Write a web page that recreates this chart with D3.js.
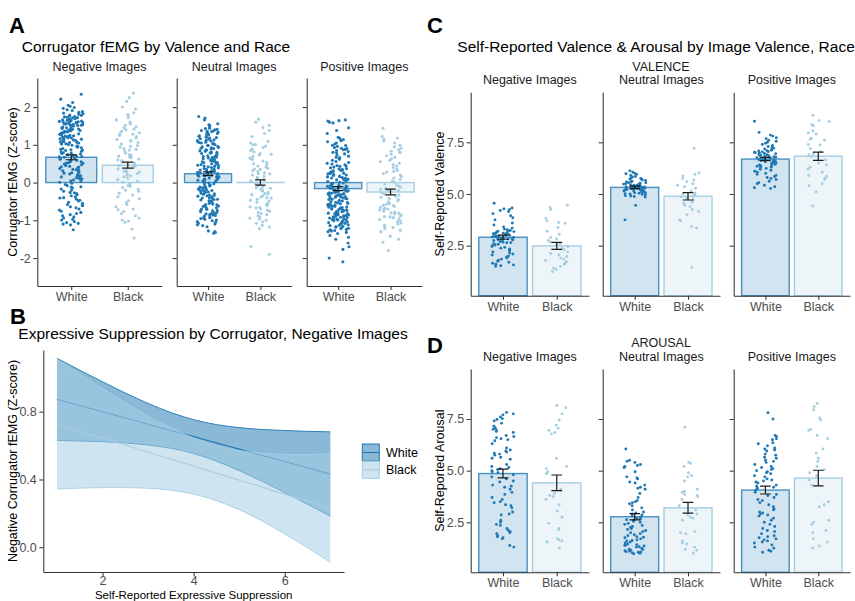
<!DOCTYPE html>
<html><head><meta charset="utf-8">
<script src="https://cdn.jsdelivr.net/npm/d3@7"></script>
<style>
body{margin:0;background:#fff}
svg text{font-family:"Liberation Sans",Arial,Helvetica,sans-serif}
</style>
</head><body>
<svg id="c" width="855" height="601"></svg>
<script>
// ---------- shared categories ----------
const races = ["White","Black"];
const facets = ["Negative Images","Neutral Images","Positive Images"];
const colDark = "#1F78B4", colLight = "#A6CEE3";

// ---------- Panel A: Corrugator fEMG ----------
const aTicks = [-2,-1,0,1,2];
const aMeanWhite = [0.67,0.235,-0.16], aMeanBlack = [0.46,0.003,-0.25];
const aSEWhite = [0.065,0.05,0.055],   aSEBlack = [0.08,0.07,0.075];
const aNegWhite = [2.34,2.21,2.12,2.05,2.02,1.99,
1.97,1.93,1.91,1.88,1.86,1.84,1.83,1.81,1.79,1.78,1.76,1.75,1.73,1.72,1.71,1.69,1.68,1.66,1.65,1.64,1.62,1.61,1.6,1.59,1.58,1.57,1.56,1.55,1.54,1.53,1.52,1.52,1.51,1.5,1.63,1.67,1.74,1.58,1.61,1.55,
1.49,1.47,1.46,1.45,1.43,1.42,1.41,1.39,1.38,1.37,1.36,1.34,1.33,1.32,1.31,1.29,1.28,1.27,1.26,1.24,1.23,1.22,1.21,1.19,1.18,1.17,1.16,1.14,1.13,1.12,1.11,1.09,1.08,1.07,1.06,1.04,1.03,1.02,1.01,1.44,1.35,1.25,1.15,1.05,1.2,
0.99,0.97,0.95,0.94,0.92,0.9,0.88,0.87,0.85,0.83,0.81,0.79,0.78,0.76,0.74,0.72,0.7,0.69,0.67,0.65,0.63,0.62,0.6,0.58,0.56,0.55,0.53,0.51,0.5,0.96,0.86,0.77,0.68,0.59,0.52,
0.49,0.47,0.45,0.43,0.41,0.39,0.37,0.35,0.33,0.31,0.29,0.27,0.25,0.23,0.21,0.19,0.17,0.15,0.13,0.11,0.09,0.07,0.05,0.03,0.01,0.42,0.34,0.26,0.18,0.1,
-0.02,-0.05,-0.08,-0.11,-0.14,-0.17,-0.2,-0.23,-0.26,-0.29,-0.32,-0.35,-0.38,-0.41,-0.44,-0.47,-0.49,-0.12,-0.27,-0.4,
-0.52,-0.55,-0.58,-0.61,-0.64,-0.67,-0.7,-0.73,-0.76,-0.79,-0.82,-0.85,-0.88,-0.91,-0.94,-0.97,-0.99,-0.6,
-1.03,-1.06,-1.08,-1.1,-1.12,-1.25];
const aNegBlack = [2.37,2.25,2.15,2.0,1.95,1.85,1.8,1.78,1.72,1.66,1.6,1.55,1.52,
1.48,1.45,1.4,1.36,1.32,1.28,1.22,1.18,1.14,1.1,1.06,1.02,1.42,1.25,
0.98,0.94,0.9,0.86,0.82,0.78,0.74,0.7,0.66,0.62,0.58,0.54,0.51,0.88,0.72,0.6,
0.48,0.44,0.4,0.36,0.32,0.28,0.24,0.2,0.16,0.12,0.08,0.04,0.01,0.3,0.18,
-0.03,-0.08,-0.13,-0.18,-0.23,-0.28,-0.33,-0.38,-0.43,-0.48,-0.2,-0.1,
-0.53,-0.58,-0.64,-0.7,-0.76,-0.82,-0.88,-0.94,-0.99,-0.72,
-1.02,-1.05,-1.23,-1.47,1.12,0.96,0.45,0.26,0.68,1.3];
const aNeuWhite = [1.75,1.71,1.66,1.56,1.53,1.52,1.5,1.47,
1.44,1.43,1.41,1.4,1.38,1.37,1.35,1.33,1.32,1.3,1.29,1.27,1.26,1.24,1.22,1.21,1.19,1.18,1.16,1.15,1.13,1.11,1.1,1.08,1.07,1.05,1.04,1.02,1.01,1.36,1.28,1.2,1.12,1.06,
0.99,0.98,0.96,0.95,0.93,0.92,0.9,0.89,0.87,0.86,0.84,0.83,0.81,0.8,0.78,0.77,0.75,0.74,0.72,0.71,0.69,0.68,0.66,0.65,0.63,0.62,0.6,0.59,0.57,0.56,0.54,0.53,0.51,0.5,0.91,0.79,0.67,0.55,
0.49,0.48,0.46,0.45,0.43,0.42,0.4,0.39,0.37,0.36,0.34,0.33,0.31,0.3,0.28,0.27,0.25,0.24,0.22,0.21,0.19,0.18,0.16,0.15,0.13,0.12,0.1,0.09,0.07,0.06,0.04,0.03,0.01,0.44,0.35,0.26,0.17,0.08,0.29,0.2,
-0.01,-0.03,-0.04,-0.06,-0.07,-0.09,-0.1,-0.12,-0.13,-0.15,-0.17,-0.18,-0.2,-0.21,-0.23,-0.25,-0.26,-0.28,-0.3,-0.31,-0.33,-0.35,-0.36,-0.38,-0.4,-0.41,-0.43,-0.45,-0.46,-0.48,-0.49,-0.14,-0.24,-0.34,-0.44,-0.19,
-0.51,-0.53,-0.55,-0.57,-0.59,-0.61,-0.63,-0.65,-0.67,-0.69,-0.71,-0.73,-0.75,-0.77,-0.79,-0.81,-0.83,-0.85,-0.87,-0.89,-0.91,-0.93,-0.95,-0.97,-0.99,-0.62,-0.74,-0.86,-0.58,-0.7,-0.82,-0.94,
-1.01,-1.03,-1.05,-1.08,-1.1,-1.12,-1.14,-1.17,-1.28,-1.3,-1.32,-1.34];
const aNeuBlack = [1.68,1.6,1.52,1.46,1.38,1.3,1.22,
1.09,1.05,1.01,0.97,0.93,0.89,0.85,0.81,0.77,0.73,0.69,0.65,0.61,0.57,0.53,0.5,1.0,0.87,0.75,0.63,
0.47,0.44,0.41,0.38,0.35,0.32,0.29,0.26,0.23,0.2,0.17,0.14,0.11,0.08,0.05,0.02,0.36,0.24,
-0.02,-0.05,-0.08,-0.11,-0.14,-0.17,-0.2,-0.23,-0.26,-0.29,-0.32,-0.35,-0.38,-0.41,-0.44,-0.47,-0.49,-0.15,-0.3,-0.4,
-0.52,-0.55,-0.58,-0.61,-0.64,-0.67,-0.7,-0.73,-0.76,-0.79,-0.82,-0.85,-0.88,-0.91,-0.94,-0.97,-1.0,-1.04,-1.08,-1.13,-1.18,-0.66,
-1.22,-1.69,-1.9];
const aPosWhite = [1.66,1.64,1.63,1.6,1.58,1.45,1.38,1.3,
1.2,1.17,1.14,1.11,1.08,1.05,1.02,0.99,0.96,0.93,0.9,0.88,0.85,0.82,0.79,0.76,0.73,0.7,0.67,0.64,0.62,0.59,0.56,0.53,0.51,0.98,0.91,0.87,0.8,0.66,
0.49,0.47,0.45,0.43,0.41,0.39,0.37,0.35,0.33,0.31,0.29,0.27,0.25,0.23,0.21,0.19,0.17,0.15,0.13,0.11,0.09,0.07,0.05,0.03,0.01,0.44,0.36,0.28,0.2,0.12,0.04,0.32,0.24,0.16,0.08,
-0.01,-0.02,-0.03,-0.05,-0.06,-0.07,-0.09,-0.1,-0.12,-0.13,-0.14,-0.16,-0.17,-0.19,-0.2,-0.21,-0.23,-0.24,-0.26,-0.27,-0.28,-0.3,-0.31,-0.33,-0.34,-0.35,-0.37,-0.38,-0.4,-0.41,-0.42,-0.44,-0.45,-0.47,-0.48,-0.49,-0.11,-0.22,-0.29,-0.36,-0.43,-0.15,-0.25,-0.32,-0.39,
-0.51,-0.52,-0.53,-0.55,-0.56,-0.57,-0.59,-0.6,-0.61,-0.63,-0.64,-0.65,-0.67,-0.68,-0.69,-0.71,-0.72,-0.73,-0.75,-0.76,-0.77,-0.79,-0.8,-0.81,-0.83,-0.84,-0.85,-0.87,-0.88,-0.89,-0.91,-0.92,-0.93,-0.95,-0.96,-0.97,-0.99,-0.54,-0.62,-0.7,-0.78,-0.86,-0.94,-0.58,-0.66,-0.74,-0.82,-0.9,-0.98,-1.0,
-1.01,-1.02,-1.04,-1.05,-1.06,-1.08,-1.09,-1.1,-1.12,-1.13,-1.14,-1.16,-1.17,-1.18,-1.2,-1.21,-1.22,-1.24,-1.25,-1.27,-1.28,-1.3,-1.32,-1.35,-1.4,-1.45,-1.5,-1.6,-1.7,-1.77,-2.0,-2.1];
const aPosBlack = [1.44,1.22,1.18,1.15,1.1,1.05,
0.99,0.95,0.91,0.87,0.83,0.79,0.75,0.71,0.67,0.63,0.59,0.55,0.51,0.8,
0.48,0.44,0.4,0.36,0.32,0.28,0.24,0.2,0.16,0.12,0.08,0.04,0.01,0.3,
-0.03,-0.06,-0.09,-0.12,-0.15,-0.18,-0.21,-0.24,-0.27,-0.3,-0.33,-0.36,-0.39,-0.42,-0.45,-0.48,-0.2,-0.35,
-0.51,-0.53,-0.56,-0.58,-0.61,-0.63,-0.66,-0.68,-0.71,-0.73,-0.76,-0.78,-0.81,-0.83,-0.86,-0.88,-0.91,-0.93,-0.96,-0.98,-0.6,-0.7,-0.8,-0.9,
-1.01,-1.04,-1.07,-1.1,-1.13,-1.16,-1.19,-1.22,-1.26,-1.3,-1.42,-1.5,-1.58,-1.8];

// ---------- Panel C: self-reported valence ----------
const scaleTicks = [2.5,5,7.5];
const vMeanWhite = [2.91,5.32,6.69], vMeanBlack = [2.49,4.89,6.83];
const vSEWhite = [0.1,0.06,0.08],    vSEBlack = [0.17,0.18,0.2];
const vNegWhite = [4.55,4.32,4.28,4.25,4.2,4.15,4.05,3.95,3.85,3.75,3.6,3.5,3.4,3.35,3.3,3.27,3.24,3.2,3.18,3.15,3.12,3.1,3.08,3.05,3.03,3.0,2.98,2.96,2.94,2.92,2.9,2.88,2.86,2.84,2.82,2.8,2.78,2.75,2.72,2.7,2.67,2.64,2.6,2.57,2.53,2.5,2.46,2.42,2.38,2.34,2.3,2.25,2.2,2.15,2.1,2.05,2.0,1.95,1.9,1.85,1.8,1.75,1.7,1.65,1.6,1.57,1.53,1.5,2.9,3.0,2.85,3.1,2.95,2.65,3.2];
const vNegBlack = [4.46,4.35,4.25,3.82,3.7,3.62,3.58,3.38,3.2,3.05,2.9,2.82,2.75,2.68,2.6,2.55,2.45,2.38,2.3,2.2,2.12,2.05,1.98,1.9,1.85,1.78,1.72,1.65,1.6,1.5,1.42,1.35,1.25];
const vNeuWhite = [6.12,6.05,6.0,5.98,5.95,5.9,5.85,5.82,5.78,5.75,5.72,5.7,5.68,5.65,5.62,5.6,5.58,5.55,5.52,5.5,5.48,5.46,5.44,5.42,5.4,5.38,5.36,5.35,5.34,5.33,5.32,5.31,5.3,5.29,5.28,5.27,5.26,5.25,5.24,5.22,5.2,5.18,5.16,5.14,5.12,5.1,5.08,5.06,5.04,5.02,5.0,4.98,4.95,4.92,4.9,4.88,4.85,4.45,3.75,5.37,5.23,5.45,5.15,5.28,5.32,5.41,5.19,5.05,5.55,5.3];
const vNeuBlack = [7.21,6.03,5.95,5.87,5.75,5.68,5.6,5.5,5.42,5.35,5.28,5.15,5.05,5.0,4.96,4.92,4.88,4.86,4.8,4.72,4.6,4.55,4.45,4.39,4.25,4.15,4.0,3.75,3.7,3.42,3.35,1.45];
const vPosWhite = [8.52,7.98,7.85,7.8,7.72,7.68,7.6,7.55,7.5,7.45,7.4,7.35,7.3,7.26,7.22,7.18,7.15,7.12,7.1,7.08,7.05,7.02,7.0,6.98,6.95,6.92,6.9,6.88,6.85,6.82,6.8,6.78,6.75,6.72,6.7,6.68,6.66,6.64,6.62,6.6,6.58,6.55,6.52,6.5,6.47,6.44,6.4,6.37,6.34,6.3,6.27,6.24,6.2,6.15,6.1,6.05,6.0,5.95,5.9,5.85,5.8,5.75,5.7,5.62,5.55,5.5,5.42,5.35,5.3,5.27,6.74,6.86,6.56,6.96,6.46,6.66,7.04,6.36,6.76,6.6];
const vPosBlack = [8.8,8.55,8.5,8.35,8.3,8.05,7.95,7.9,7.7,7.65,7.6,7.4,7.37,7.2,7.05,6.95,6.9,6.8,6.65,6.5,6.4,6.3,6.2,6.05,5.9,5.85,5.75,5.7,5.5,5.4,5.1,4.42];

// ---------- Panel D: self-reported arousal ----------
const rMeanWhite = [4.86,2.77,4.06], rMeanBlack = [4.41,3.2,4.64];
const rSEWhite = [0.21,0.15,0.19],   rSEBlack = [0.38,0.26,0.38];
const rNegWhite = [7.82,7.75,7.7,7.6,7.52,7.48,7.4,7.3,7.15,7.05,7.0,6.95,6.9,6.7,6.65,6.6,6.55,6.5,6.45,6.3,6.1,6.0,5.95,5.9,5.85,5.8,5.75,5.65,5.6,5.55,5.3,5.2,5.15,5.1,5.05,5.0,4.95,4.9,4.8,4.7,4.6,4.5,4.45,4.3,4.2,4.1,3.95,3.85,3.7,3.6,3.5,3.45,3.35,3.3,3.2,3.0,2.9,2.85,2.6,2.5,2.4,2.35,2.2,2.1,2.05,2.0,1.95,1.85,1.8,1.75,1.7,1.38,1.3,6.85,4.25];
const rNegBlack = [8.15,8.05,7.75,7.45,7.2,7.05,6.95,6.85,6.78,5.6,5.2,5.1,4.95,4.85,4.1,3.9,3.8,3.75,3.6,3.35,3.05,2.75,2.45,2.2,2.15,1.7,1.65,1.6,1.55,1.25];
const rNeuWhite = [6.05,5.5,5.45,5.4,5.3,5.25,5.2,5.15,4.95,4.7,4.65,4.6,4.45,4.4,4.3,4.2,4.15,4.1,3.9,3.7,3.55,3.5,3.45,3.3,3.2,3.1,3.0,2.95,2.9,2.85,2.8,2.75,2.7,2.6,2.55,2.5,2.45,2.4,2.3,2.25,2.2,2.15,2.1,2.05,2.0,1.95,1.9,1.85,1.8,1.75,1.7,1.65,1.6,1.55,1.5,1.45,1.4,1.38,1.35,1.3,1.25,1.2,1.18,1.15,1.12,1.1,1.08,1.05,1.02,1.0,0.98,2.65,1.62,1.42,2.35,1.78,2.62,1.32,3.4,1.06];
const rNeuBlack = [7.1,5.4,5.35,5.2,4.9,4.75,4.7,4.5,4.1,4.0,3.95,3.85,3.8,3.75,3.6,3.3,3.1,2.9,2.85,2.75,2.7,2.6,2.05,2.0,1.95,1.6,1.5,1.45,1.3,1.2,1.15,1.0];
const rPosWhite = [7.8,7.5,6.7,6.65,6.55,6.5,6.35,6.3,6.2,6.1,6.05,5.95,5.8,5.75,5.6,5.5,5.4,5.3,5.2,5.15,5.1,5.05,5.0,4.95,4.85,4.75,4.7,4.6,4.5,4.45,4.4,4.3,4.2,4.15,4.05,3.95,3.85,3.7,3.55,3.45,3.35,3.25,3.1,3.0,2.95,2.9,2.8,2.7,2.6,2.5,2.4,2.3,2.2,2.1,1.95,1.85,1.8,1.75,1.7,1.65,1.6,1.55,1.4,1.3,1.25,1.15,1.1,1.05,5.45,4.9,3.8,2.85,4.25,5.65,3.15,2.05,4.55,6.0,3.6,1.5];
const rPosBlack = [8.25,8.1,7.95,7.55,7.45,7.0,6.95,6.7,6.55,6.05,5.85,5.6,5.45,5.2,5.05,4.9,4.75,4.55,4.3,3.5,3.35,3.25,2.6,2.5,2.4,2.1,2.0,1.7,1.55,1.35,1.25];

// ---------- Panel B: regression fits ----------
const bXTicks = [2,4,6], bYTicks = [0,0.4,0.8];
const bX        = [1,1.5,2,2.5,3,3.5,4,4.5,5,5.5,6,6.5,7];
const bWhiteFit = [0.873,0.836,0.800,0.763,0.726,0.689,0.653,0.616,0.579,0.542,0.506,0.469,0.432];
const bWhiteHi  = [1.115,1.045,0.977,0.910,0.849,0.795,0.753,0.724,0.706,0.695,0.689,0.684,0.681];
const bWhiteLo  = [0.631,0.627,0.623,0.615,0.603,0.584,0.553,0.508,0.452,0.389,0.323,0.254,0.183];
const bBlackFit = [0.727,0.686,0.644,0.603,0.561,0.520,0.479,0.437,0.396,0.355,0.313,0.272,0.230];
const bBlackHi  = [1.110,1.023,0.936,0.854,0.774,0.704,0.644,0.599,0.570,0.555,0.548,0.547,0.549];
const bBlackLo  = [0.344,0.349,0.352,0.352,0.348,0.337,0.314,0.275,0.222,0.155,0.078,-0.003,-0.089];

// =====================================================================
const svg = d3.select("#c");
const TICK = "#4D4D4D", AX = "#333333";
function jit(i, s){ const v = Math.sin((i+1)*12.9898 + s*78.233)*43758.5453; return 2*(v - Math.floor(v)) - 1; }
function label(x,y,s,size,o={}){
  const t = svg.append("text").attr("x",x).attr("y",y).text(s)
    .attr("font-size",size).attr("fill",o.fill||"#000")
    .attr("text-anchor",o.anchor||"start");
  if(o.bold) t.attr("font-weight","bold");
  if(o.rot) t.attr("transform",`rotate(-90,${x},${y})`);
  return t;
}
function styleAxis(g){
  g.select(".domain").attr("stroke",AX).attr("stroke-width",1.05);
  g.selectAll(".tick line").attr("stroke",AX).attr("stroke-width",1.05);
  g.selectAll(".tick text").attr("fill",TICK).attr("font-size",12.5)
    .attr("font-family","'Liberation Sans',Arial,sans-serif");
}

function barPanel(cfg){
  cfg.xr.forEach((r,fi)=>{
    const x = d3.scalePoint().domain(races).range(r).padding(0.6);
    const step = x.step();
    const y = cfg.y;
    const base = Math.max(0, y.domain()[0]);
    const g = svg.append("g");
    races.forEach(race=>{
      const m = cfg.means[race][fi], c = race==="White"?colDark:colLight;
      g.append("rect").attr("x",x(race)-0.45*step).attr("width",0.9*step)
        .attr("y",Math.min(y(m),y(base))).attr("height",Math.max(0.01,Math.abs(y(m)-y(base))))
        .attr("fill",c).attr("fill-opacity",0.2)
        .attr("stroke",c).attr("stroke-opacity",race==="White"?0.8:1).attr("stroke-width",1.4);
    });
    races.forEach((race,ri)=>{
      const c = race==="White"?colDark:colLight;
      g.selectAll(null).data(cfg.pts[fi][ri]).join("circle")
        .attr("cx",(d,i)=>x(race)+jit(i,fi*2+ri+cfg.seed)*0.21*step)
        .attr("cy",d=>y(d)).attr("r",cfg.r).attr("fill",c);
    });
    races.forEach(race=>{
      const m = cfg.means[race][fi], se = cfg.ses[race][fi], cx = x(race), hw = 0.1*step;
      const p = d3.path();
      p.moveTo(cx-hw,y(m+se)); p.lineTo(cx+hw,y(m+se));
      p.moveTo(cx,y(m+se)); p.lineTo(cx,y(m-se));
      p.moveTo(cx-hw,y(m-se)); p.lineTo(cx+hw,y(m-se));
      g.append("path").attr("d",p.toString()).attr("stroke","#1a1a1a").attr("stroke-width",1.2).attr("fill","none");
    });
    const ay = g.append("g").attr("transform",`translate(${r[0]},0)`)
      .call(d3.axisLeft(y).tickValues(cfg.ticks).tickSize(4).tickSizeOuter(0).tickPadding(2.5)
      .tickFormat(fi===0?cfg.fmt:()=>""));
    styleAxis(ay);
    const axb = g.append("g").attr("transform",`translate(0,${y.range()[0]})`)
      .call(d3.axisBottom(x).tickSize(4).tickSizeOuter(0).tickPadding(2));
    styleAxis(axb);
  });
}

// ---------------- Panel A ----------------
const yA = d3.scaleLinear().domain([-2.74,2.77]).range([286,78]);
barPanel({xr:[[37.3,161.7],[176.7,291.7],[306.7,422]], y:yA, ticks:aTicks, fmt:d=>String(d), seed:0, r:1.55,
  means:{White:aMeanWhite,Black:aMeanBlack}, ses:{White:aSEWhite,Black:aSEBlack},
  pts:[[aNegWhite,aNegBlack],[aNeuWhite,aNeuBlack],[aPosWhite,aPosBlack]]});
label(9,33,"A",22,{bold:true});
label(21.7,52.3,"Corrugator fEMG by Valence and Race",15.5);
[[37.3,161.7],[176.7,291.7],[306.7,422]].forEach((r,i)=>label((r[0]+r[1])/2,70.7,facets[i],12.5,{anchor:"middle",fill:"#1a1a1a"}));
label(16.5,182,"Corrugator fEMG (Z-score)",12.5,{anchor:"middle",rot:true});

// ---------------- Panel C & D ----------------
const xrCD = [[470.7,589],[602.7,720],[733.7,850]];
const yC = d3.scaleLinear().domain([0.08,9.92]).range([295.7,92.3]);
const yD = d3.scaleLinear().domain([0.08,9.92]).range([572.3,369]);
barPanel({xr:xrCD, y:yC, ticks:scaleTicks, fmt:d=>d.toFixed(1), seed:7, r:1.45,
  means:{White:vMeanWhite,Black:vMeanBlack}, ses:{White:vSEWhite,Black:vSEBlack},
  pts:[[vNegWhite,vNegBlack],[vNeuWhite,vNeuBlack],[vPosWhite,vPosBlack]]});
barPanel({xr:xrCD, y:yD, ticks:scaleTicks, fmt:d=>d.toFixed(1), seed:13, r:1.45,
  means:{White:rMeanWhite,Black:rMeanBlack}, ses:{White:rSEWhite,Black:rSEBlack},
  pts:[[rNegWhite,rNegBlack],[rNeuWhite,rNeuBlack],[rPosWhite,rPosBlack]]});
label(427,33,"C",22,{bold:true});
label(427,353,"D",22,{bold:true});
label(457.3,52.3,"Self-Reported Valence & Arousal by Image Valence, Race",15.5);
label(661,70.7,"VALENCE",12.5,{anchor:"middle",fill:"#1a1a1a"});
label(661,347.3,"AROUSAL",12.5,{anchor:"middle",fill:"#1a1a1a"});
xrCD.forEach((r,i)=>{
  label((r[0]+r[1])/2,84,facets[i],12.5,{anchor:"middle",fill:"#1a1a1a"});
  label((r[0]+r[1])/2,360.7,facets[i],12.5,{anchor:"middle",fill:"#1a1a1a"});
});
label(444,194,"Self-Reported Valence",12.5,{anchor:"middle",rot:true});
label(444,470.7,"Self-Reported Arousal",12.5,{anchor:"middle",rot:true});

// ---------------- Panel B ----------------
const xB = d3.scaleLinear().domain([0.7,7.3]).range([43.3,344]);
const yB = d3.scaleLinear().domain([-0.146,1.164]).range([572,350]);
const gB = svg.append("g");
function ribbon(hi,lo,fit,c,op){
  const area = d3.area().curve(d3.curveNatural).x((d,i)=>xB(bX[i])).y0((d,i)=>yB(lo[i])).y1(d=>yB(d));
  const line = d3.line().curve(d3.curveNatural).x((d,i)=>xB(bX[i])).y(d=>yB(d));
  gB.append("path").attr("d",area(hi)).attr("fill",c).attr("fill-opacity",op);
  gB.append("path").attr("d",line(hi)).attr("stroke",c).attr("stroke-width",0.9).attr("fill","none");
  gB.append("path").attr("d",line(lo)).attr("stroke",c).attr("stroke-width",0.9).attr("fill","none");
  gB.append("path").attr("d",line(fit)).attr("stroke",c).attr("stroke-width",1.1).attr("fill","none");
}
ribbon(bWhiteHi,bWhiteLo,bWhiteFit,colDark,0.52);
ribbon(bBlackHi,bBlackLo,bBlackFit,colLight,0.55);
const bxa = gB.append("g").attr("transform","translate(0,572)")
  .call(d3.axisBottom(xB).tickValues(bXTicks).tickSize(4).tickSizeOuter(0).tickPadding(0.5).tickFormat(d=>String(d)));
styleAxis(bxa);
const bya = gB.append("g").attr("transform","translate(43.3,0)")
  .call(d3.axisLeft(yB).tickValues(bYTicks).tickSize(4).tickSizeOuter(0).tickPadding(2.5).tickFormat(d=>d.toFixed(1)));
styleAxis(bya);
label(10,324,"B",22,{bold:true});
label(18.3,339.3,"Expressive Suppression by Corrugator, Negative Images",15.5);
label(17,461,"Negative Corrugator fEMG (Z-score)",12.5,{anchor:"middle",rot:true});
label(193.7,599,"Self-Reported Expressive Suppression",11.5,{anchor:"middle"});
// legend
races.forEach((race,i)=>{
  const c = race==="White"?colDark:colLight, op = race==="White"?0.52:0.55;
  const y0 = 444 + i*17.3;
  gB.append("rect").attr("x",362.3).attr("y",y0).attr("width",17).attr("height",17)
    .attr("fill",c).attr("fill-opacity",op).attr("stroke",c).attr("stroke-width",1);
  gB.append("line").attr("x1",362.3).attr("x2",379.3).attr("y1",y0+8.5).attr("y2",y0+8.5)
    .attr("stroke",c).attr("stroke-width",1.1);
  label(386,y0+13,race,12.5,{fill:"#000"});
});
</script>
</body></html>
